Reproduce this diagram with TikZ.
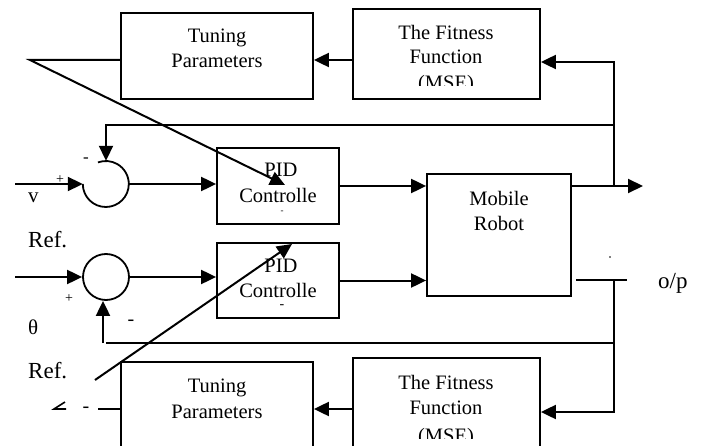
\documentclass[tikz,border=0pt]{standalone}
\usepackage{fontspec}
\setmainfont{Liberation Serif}
\usetikzlibrary{arrows.meta}
\begin{document}
\begin{tikzpicture}[x=1pt,y=-1pt,
  box/.style={draw, line width=1.8pt, rectangle, inner sep=0pt},
  conn/.style={line width=2pt},
  arr/.style={line width=2pt, -{Triangle[length=15pt,width=14pt]}},
  lbl/.style={font=\fontsize{20.5}{24}\selectfont, inner sep=0pt, anchor=base},
  big/.style={font=\fontsize{23}{26}\selectfont, inner sep=0pt, anchor=base west},
  sgn/.style={inner sep=0pt}]
\useasboundingbox (0,0) rectangle (708,446);
\clip (0,0) rectangle (708,446);

% blocks
\node[box, minimum width=192pt, minimum height=86pt] (tp1) at (217,56) {};
\node[box, minimum width=187pt, minimum height=90pt] (ff1) at (446.5,54) {};
\node[box, minimum width=122pt, minimum height=76pt] (pid1) at (278,186) {};
\node[box, minimum width=122pt, minimum height=75pt] (pid2) at (278,280.5) {};
\node[box, minimum width=144pt, minimum height=122pt] (robot) at (499,235) {};
\node[box, minimum width=192pt, minimum height=110pt] (tp2) at (217,417) {};
\node[box, minimum width=187pt, minimum height=110pt] (ff2) at (446.5,413) {};
\node[circle, minimum size=46pt, inner sep=0pt] (s1) at (106,184) {};
\node[circle, draw, line width=1.8pt, minimum size=46pt, inner sep=0pt] (s2) at (106,277) {};
\draw[line width=1.8pt] (s1.west) arc[start angle=180, end angle=-110, radius=23];

% block texts
\node[lbl] (tp1a) at (217,43) {Tuning};
\node[lbl] (tp1b) at (217,68) {Parameters};
\begin{scope}
  \clip (353,9) rectangle (540,86);
  \node[lbl] (ff1a) at (446,40) {The Fitness};
  \node[lbl] (ff1b) at (446,64) {Function};
  \node[lbl] (ff1c) at (446,90) {(MSE)};
\end{scope}
\node[lbl] (pid1a) at (281,177) {PID};
\node[lbl] (pid1b) at (278,203) {Controlle};
\node[sgn, font=\fontsize{9}{10}\selectfont] (pid1c) at (282,212) {-};
\node[lbl] (pid2a) at (281,272) {PID};
\node[lbl] (pid2b) at (278,297) {Controlle};
\node[sgn, font=\fontsize{14}{15}\selectfont] (pid2c) at (282,307) {-};
\node[lbl] (roba) at (499,205) {Mobile};
\node[lbl] (robb) at (499,230) {Robot};
\node[lbl] (tp2a) at (217,392) {Tuning};
\node[lbl] (tp2b) at (217,418) {Parameters};
\begin{scope}
  \clip (353,358) rectangle (540,438);
  \node[lbl] (ff2a) at (446,389) {The Fitness};
  \node[lbl] (ff2b) at (446,414) {Function};
  \node[lbl] (ff2c) at (446,442) {(MSE)};
\end{scope}

% free labels
\node[big, font=\fontsize{21}{24}\selectfont] (lv) at (28,202) {v};
\node[big] (ref1) at (28,247) {Ref.};
\node[big, font=\fontsize{21}{24}\selectfont] (lth) at (28,334) {θ};
\node[big] (ref2) at (28,378) {Ref.};
\node[big] (op) at (658,288) {o/p};
\node[sgn, font=\fontsize{14}{15}\selectfont] (p1) at (60,180) {+};
\node[sgn, font=\fontsize{14}{15}\selectfont] (p2) at (69,299) {+};
\node[sgn, font=\fontsize{17}{18}\selectfont] (m1) at (86,160) {-};
\node[sgn, font=\fontsize{20}{20}\selectfont] (m2) at (131,323) {-};
\node[sgn, font=\fontsize{20}{20}\selectfont] (m3) at (86,410) {-};
\fill (610,257) circle (0.9);

% coordinates
\coordinate (tl) at (30,60);
\coordinate (diag1tip) at (285,185);
\coordinate (fbtop) at (614,62);
\coordinate (outA) at (614,186);
\coordinate (outtip) at (643,186);
\coordinate (loopR) at (614,125);
\coordinate (loopL) at (106,125);
\coordinate (vin) at (15,184);
\coordinate (thin) at (15,277);
\coordinate (out2a) at (576,280);
\coordinate (out2b) at (627,280);
\coordinate (fb2top) at (614,280);
\coordinate (fbbot) at (614,412);
\coordinate (hlineL) at (106,343);
\coordinate (hlineR) at (614,343);
\coordinate (upfoot) at (103,343);
\coordinate (diag2a) at (95,380);
\coordinate (diag2tip) at (292,244);
\coordinate (tp2l) at (98,409);

% connectors
\draw[arr] (ff1.west |- tl) -- (tp1.east |- tl);
\draw[arr] (tp1.west |- tl) -- (tl) -- (diag1tip);
\draw[arr] (outA) -- (fbtop) -- (ff1.east |- fbtop);
\draw[arr] (robot.east |- outA) -- (outtip);
\draw[arr] (loopR) -- (loopL) -- (s1.north);
\draw[arr] (vin) -- (s1.west);
\draw[arr] (s1.east) -- (s1.east -| pid1.west);
\draw[arr] (pid1.east) -- (pid1.east -| robot.west);
\draw[arr] (thin) -- (s2.west);
\draw[arr] (s2.east) -- (s2.east -| pid2.west);
\draw[arr] (pid2.east) -- (pid2.east -| robot.west);
\draw[conn] (out2a) -- (out2b);
\draw[arr] (fb2top) -- (fbbot) -- (ff2.east |- fbbot);
\draw[conn] (hlineL) -- (hlineR);
\draw[arr] (upfoot) -- (upfoot |- s2.south);
\draw[arr] (diag2a) -- (diag2tip);
\draw[arr] (ff2.west |- tp2l) -- (tp2.east |- tp2l);
\draw[conn] (tp2.west |- tp2l) -- (tp2l);
\draw[line width=1.6pt] (65,402) -- (54,409) -- (66,409);
\end{tikzpicture}
\end{document}
